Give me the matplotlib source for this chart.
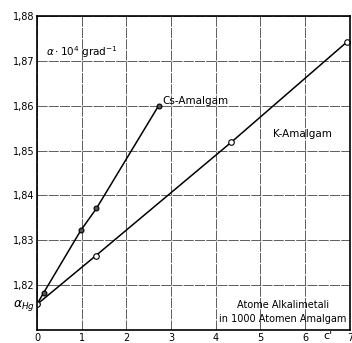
import matplotlib.pyplot as plt

# Cs-Amalgam (gefuellte Kreise)
cs_x = [0.0, 0.15, 0.98, 1.33, 2.72]
cs_y = [1.8157, 1.8183, 1.8322, 1.8371, 1.8600]

# K-Amalgam (offene Kreise)
k_x = [0.0, 1.32, 4.35, 6.93]
k_y = [1.8157, 1.8266, 1.8519, 1.8742]

x_ticks = [0, 1, 2, 3, 4, 5, 6, 7]
y_ticks = [1.82, 1.83, 1.84, 1.85, 1.86, 1.87, 1.88]
y_labels = ["1,82", "1,83", "1,84", "1,85", "1,86", "1,87", "1,88"]

fig = plt.figure(figsize=(3.52, 3.43), dpi=100)
ax = fig.add_axes([0.105, 0.038, 0.889, 0.915])

ax.plot(cs_x, cs_y, color="black", lw=1.1, marker="o", ms=3.5,
        mfc="#555555", mec="black", mew=0.8)
ax.plot(k_x, k_y, color="black", lw=1.1, marker="o", ms=4,
        mfc="white", mec="black", mew=0.8)

ax.set_xlim(0, 7)
ax.set_ylim(1.81, 1.88)
ax.set_xticks(x_ticks)
ax.set_xticklabels(["0", "1", "2", "3", "4", "5", "6", "7"])
ax.set_yticks(y_ticks)
ax.set_yticklabels(y_labels)
ax.tick_params(length=0, labelsize=7, pad=2)
ax.grid(True, color="#444444", lw=0.6, ls=(0, (12, 1.5)))
for s in ax.spines.values():
    s.set_linewidth(1.2)

ax.text(0.2, 1.8712, r"$\alpha\cdot10^4$ grad$^{-1}$", fontsize=7.5)
ax.text(2.8, 1.8603, "Cs-Amalgam", fontsize=7.5)
ax.text(5.27, 1.8538, "K-Amalgam", fontsize=7.5, va="center")
ax.text(5.5, 1.8148, "Atome Alkalimetali", fontsize=7, ha="center")
ax.text(5.5, 1.8117, "in 1000 Atomen Amalgam", fontsize=7, ha="center")
ax.text(-0.05, 1.8155, r"$\alpha_{Hg}$", fontsize=9, ha="right", va="center")
ax.text(6.5, 1.8086, "c'", fontsize=8, ha="center", va="center")

fig.savefig("out.png", dpi=100)
